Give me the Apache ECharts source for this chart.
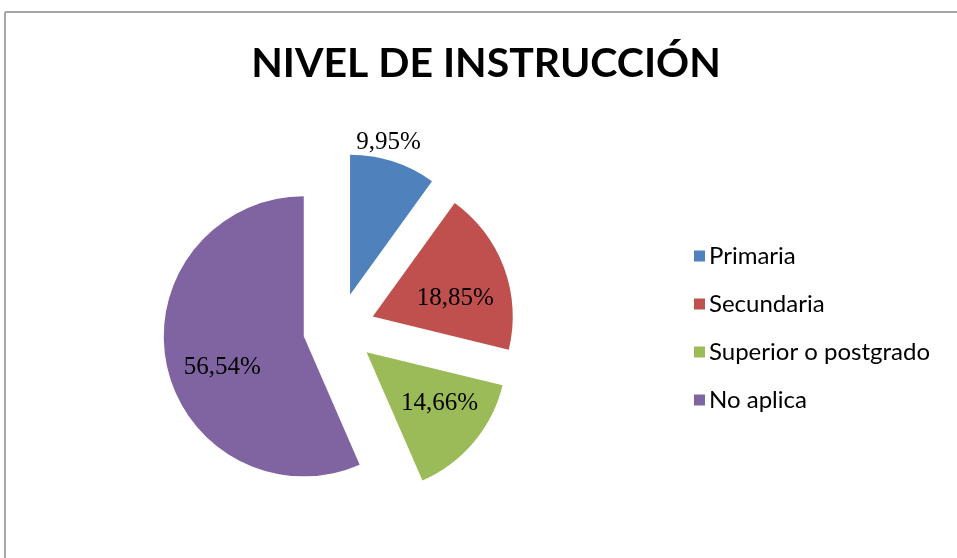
<!DOCTYPE html>
<html>
<head>
<meta charset="utf-8">
<script src="https://cdn.jsdelivr.net/npm/echarts@6/dist/echarts.min.js"></script>
<style>
html,body{margin:0;padding:0;background:#fff;}
#chartDiv{width:957px;height:558px;}
</style>
</head>
<body>
<div id="chartDiv"></div>
<script>
var categories = ['Primaria', 'Secundaria', 'Superior o postgrado', 'No aplica'];
var values = [9.95, 18.85, 14.66, 56.54];
var colors = ['#4f81bd', '#c0504d', '#9bbb59', '#8064a2'];
// nudge of each percent label from its default inside spot
var labelShift = [[16, -83], [14, 7], [17, 4], [-10, 16]];

var chart = echarts.init(document.getElementById('chartDiv'));

function drawPie(){
    var data = [];
    for (var i = 0; i < categories.length; i++) {
        data.push({
            name: categories[i],
            value: values[i],
            selected: true,
            itemStyle: {color: colors[i]}
        });
    }
    option = {
        animation: false,
        title: {
            text: 'NIVEL DE INSTRUCCIÓN',
            left: 481,
            textAlign: 'center',
            top: 38,
            textStyle: {
                fontFamily: 'Lato',
                fontWeight: 'bold',
                fontSize: 41,
                color: '#000'
            }
        },
        legend: {
            orient: 'vertical',
            left: 689,
            top: 239,
            itemWidth: 11,
            itemHeight: 11,
            itemGap: 24,
            icon: 'rect',
            data: categories,
            textStyle: {
                fontFamily: 'Lato',
                fontSize: 24,
                color: '#000',
                padding: [0, 0, 0, -1]
            }
        },
        graphic: [
            {type: 'line', shape: {x1: 5, y1: 12, x2: 957, y2: 12}, style: {stroke: '#a6a6a6', lineWidth: 2}},
            {type: 'line', shape: {x1: 5, y1: 12, x2: 5, y2: 558}, style: {stroke: '#a6a6a6', lineWidth: 2}}
        ],
        series: [{
            name: 'Nivel de instrucción',
            type: 'pie',
            center: [339, 329],
            radius: 140,
            startAngle: 90,
            clockwise: true,
            selectedMode: 'multiple',
            selectedOffset: 36,
            emphasis: {disabled: true},
            labelLine: {show: false},
            label: {
                position: 'inside',
                fontFamily: 'Liberation Serif',
                fontSize: 25,
                color: '#000',
                formatter: function (p) {
                    return p.value.toFixed(2).replace('.', ',') + '%';
                }
            },
            labelLayout: function (p) {
                return {dx: labelShift[p.dataIndex][0], dy: labelShift[p.dataIndex][1]};
            },
            data: data
        }]
    };
    chart.setOption(option);
}
drawPie();
</script>
</body>
</html>
